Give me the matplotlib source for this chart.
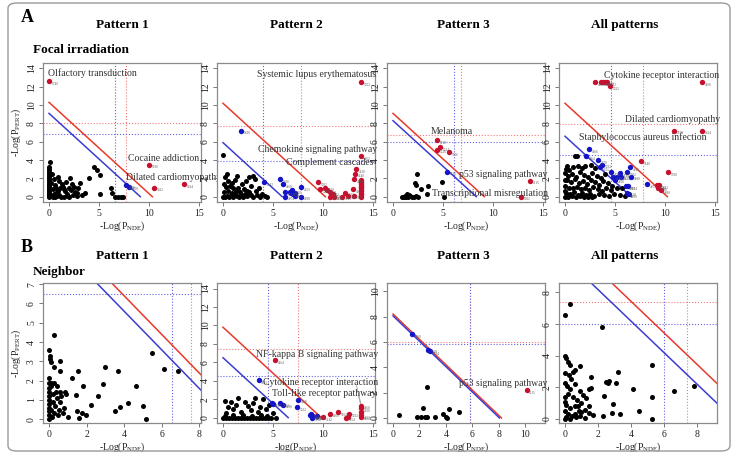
import matplotlib
matplotlib.use("Agg")
import matplotlib.pyplot as plt
from matplotlib.patches import FancyBboxPatch

plt.rcParams['font.family'] = ['Liberation Serif', 'DejaVu Serif']
plt.rcParams['mathtext.default'] = 'regular'

# ---------------- data: focal irradiation (row A) ----------------
fp1_black_x = [0, 0, 0, 0, 0, 0, 0, 0, 0, 0, 0, 0, 0, 0, 0, 0, 0, 0, 0, 0, 0.13,
               0.3, 0.5, 0.4, 0.6, 0.5, 0.9, 0.8, 1.0, 1.1, 1.3, 1.4, 1.2, 1.6, 1.7, 1.8,
               2.0, 2.1, 2.2, 2.4, 2.5, 2.6, 2.75, 2.9, 3.1, 3.3, 3.6, 4.0, 4.5, 4.75,
               5.1, 5.1, 6.2, 6.3, 6.6, 6.9, 7.2, 7.4, 0.2, 0.3, 0.7, 1.5, 1.9, 2.3,
               1.0, 0.4, 0.6, 0.8, 2.0, 2.8, 0.9, 1.5]
fp1_black_y = [0, 0.1, 0.2, 0.3, 0.45, 0.6, 0.75, 0.9, 1.05, 1.2, 1.4, 1.6, 1.8, 2.0,
               2.2, 2.4, 2.6, 2.8, 3.0, 3.2, 3.8,
               0.1, 0.3, 0.8, 1.3, 1.9, 2.2, 0.5, 0.2, 0.9, 1.4, 1.1, 0.0, 0.6, 1.6, 0.3,
               1.0, 2.0, 0.7, 0.2, 1.1, 0.5, 0.4, 0.9, 1.5, 0.2, 0.4, 2.0, 3.2, 2.9,
               2.4, 0.3, 0.9, 0.4, 0.0, 0.0, 0.0, 0.0, 1.5, 2.5, 1.0, 0.0, 0.1, 1.4,
               1.7, 0.0, 0.0, 0.1, 0.0, 0.1, 0.6, 0.8]
fp1_red_x = [0.0, 10.0, 10.5, 13.5]
fp1_red_y = [12.6, 3.5, 1.0, 1.35]
fp1_red_ids = ['1740', '5030', '5412', '5414']
fp1_blue_x = [7.7, 8.0]
fp1_blue_y = [1.27, 1.1]
fp1_blue_ids = ['4080', '4720']
fp1_cut = [10.3, 9.1]          # red, blue diagonal (x + y)
fp1_red_thr = [7.7, 8.0]       # vertical, horizontal
fp1_blue_thr = [6.6, 6.9]
fp1_notes = ['Olfactory transduction', 'Cocaine addiction', 'Dilated cardiomyopathy']

fp2_black_x = [0, 0.4, 0.2, 0.5, 0.1, 0.3, 0.7, 0.9, 1.0, 1.2, 1.4, 1.5, 1.7, 1.9, 2.1,
               2.3, 2.6, 2.8, 3.0, 3.2, 3.3, 3.6, 3.9, 4.2, 4.4,
               0, 0.2, 0.4, 0.6, 0.8, 1.0, 1.2, 1.4, 1.6, 1.8, 2.0, 2.2, 2.4, 2.6, 2.8,
               3.0, 3.4, 3.7, 0.1, 0.5, 0.9, 1.3, 2.4]
fp2_black_y = [4.6, 2.5, 2.1, 1.7, 1.4, 1.1, 1.2, 1.5, 0.9, 1.8, 2.3, 1.0, 0.5, 1.4, 0.8,
               1.7, 2.1, 1.2, 2.3, 1.9, 0.6, 1.0, 0.3, 0.1, 0.0,
               0, 0.0, 0.1, 0.0, 0.2, 0.0, 0.3, 0.1, 0.0, 0.2, 0.0, 0.3, 0.1, 0.5, 0.2,
               0.0, 0.2, 0.0, 0.5, 0.6, 0.4, 0.6, 0.6]
fp2_red_x = [13.8, 13.8, 13.3, 13.2, 13.1, 13.0, 13.1, 12.5, 11.9, 12.2, 11.1, 10.7,
             10.7, 10.4, 10.2, 9.7, 9.5, 11.0,
             13.8, 13.8, 13.8, 13.8, 13.8, 13.8, 13.8, 13.8, 13.8, 13.8, 13.8, 13.8, 13.8]
fp2_red_y = [12.5, 4.4, 3.0, 2.5, 1.9, 0.8, 0.1, 0.1, 0.0, 0.45, 0.0, 0.0,
             0.5, 0.7, 1.0, 0.8, 1.6, 0.3,
             0.0, 0.15, 0.3, 0.45, 0.6, 0.75, 0.9, 1.05, 1.2, 1.35, 1.5, 1.65, 1.8]
fp2_red_ids = ['5322', '4062', '4610', '4640', '4380', '4660', '5162', '4672', '4950',
               '4612', '4940', '5020', '4142', '5150', '4150', '5330', '5202', '4512',
               '', '', '', '', '', '', '', '', '', '', '', '', '']
fp2_blue_x = [1.8, 4.1, 5.66, 6.0, 6.2, 6.2, 6.7, 6.8, 7.0, 6.9, 7.2, 7.75, 7.8, 7.2]
fp2_blue_y = [7.2, 1.6, 1.9, 1.4, 0.5, 0.0, 0.5, 0.45, 0.3, 0.7, 0.45, 1.05, 0.0, 0.1]
fp2_blue_ids = ['5410', '4512', '5416', '4060', '4672', '4974', '4623', '', '4062',
                '5020', '', '4623', '4930', '']
fp2_cut = [10.2, 5.9]
fp2_red_thr = [7.8, 7.7]
fp2_blue_thr = [4.0, 3.9]
fp2_notes = ['Systemic lupus erythematosus', 'Chemokine signaling pathway',
             'Complement cascades']

fp3_black_x = [2.4, 2.2, 2.3, 2.75, 3.5, 3.4, 4.9, 5.1, 1.4, 0.9, 1.1, 1.3, 1.5, 1.7,
               1.9, 2.1, 2.3, 2.5, 1.6, 1.2]
fp3_black_y = [2.5, 1.5, 1.3, 0.8, 1.2, 0.3, 1.6, 0.0, 0.3, 0.0, 0.0, 0.0, 0.0, 0.1,
               0.0, 0.0, 0.1, 0.0, 0.2, 0.1]
fp3_red_x = [4.4, 4.67, 4.4, 5.6, 13.7, 12.75]
fp3_red_y = [6.15, 5.4, 5.15, 4.9, 1.75, 0.0]
fp3_red_ids = ['5218', '5214', '5220', '5006', '4115', '5202']
fp3_blue_x = [5.4]
fp3_blue_y = [2.75]
fp3_blue_ids = ['5216']
fp3_cut = [9.1, 8.3]
fp3_red_thr = [6.8, 6.7]
fp3_blue_thr = [6.05, 6.0]
fp3_notes = ['Melanoma', 'p53 signaling pathway', 'Transcriptional misregulation']

fp4_black_x = [1.0, 1.2, 0.1, 0.4, 0.8, 1.3, 1.7, 2.0, 2.6, 3.0, 0.0, 0.3, 0.7, 1.1, 1.5,
               1.9, 2.3, 2.7, 3.2, 3.6, 4.0, 0.2, 0.6, 1.0, 1.4, 1.8, 2.2, 2.6, 3.0, 3.4,
               3.8, 4.3, 4.7, 0.0, 0.4, 0.8, 1.2, 1.6, 2.0, 2.4, 2.8, 3.3, 3.7, 4.1, 4.6,
               5.2, 5.7, 0.1, 0.5, 0.9, 1.3, 1.7, 2.1, 2.5, 2.9, 3.4, 3.9, 4.4, 4.9, 5.5,
               6.0, 6.4, 0.0, 0.3, 0.7, 1.1, 1.5, 1.9, 2.3, 2.7, 0.0, 0.0, 0.2]
fp4_black_y = [4.4, 4.4, 3.0, 2.9, 3.2, 3.4, 3.1, 3.3, 3.5, 3.1, 2.6, 2.3, 2.5, 2.1, 2.7,
               2.4, 2.2, 2.6, 2.3, 2.0, 2.5, 1.8, 1.6, 1.9, 1.5, 1.7, 1.4, 1.8, 1.6, 1.3,
               1.7, 1.5, 1.2, 1.2, 1.0, 0.9, 1.1, 0.8, 1.0, 0.7, 1.1, 0.8, 0.6, 0.9, 0.7,
               0.9, 1.0, 0.4, 0.3, 0.5, 0.2, 0.4, 0.2, 0.3, 0.1, 0.3, 0.2, 0.1, 0.3, 0.2,
               0.1, 0.3, 0.0, 0.0, 0.1, 0.0, 0.1, 0.0, 0.0, 0.0, 0.6, 1.8, 3.4]
fp4_red_x = [2.95, 3.6, 3.8, 3.95, 4.2, 4.5, 13.7, 10.9, 13.7, 7.55, 10.3, 9.2, 9.4,
             9.3, 9.6]
fp4_red_y = [12.5, 12.5, 12.5, 12.55, 12.5, 12.1, 12.5, 7.2, 7.2, 3.85, 2.7, 1.26,
             1.26, 1.0, 0.7]
fp4_red_ids = ['4062', '4610', '4612', '4640', '5152', '5322', '4060', '5150', '5414',
               '5140', '5030', '5031', '5412', '5020', '4080']
fp4_blue_x = [2.4, 2.1, 3.3, 3.7, 3.45, 4.6, 6.45, 6.15, 5.5, 4.75, 5.2, 5.6, 5.0,
              6.55, 8.2, 6.05, 6.3, 6.2, 6.3]
fp4_blue_y = [5.2, 4.4, 4.0, 3.5, 3.25, 2.7, 3.25, 2.7, 2.55, 2.2, 2.2, 2.2, 1.86,
              2.2, 1.4, 1.15, 1.15, 0.45, 0.3]
fp4_blue_ids = ['4666', '4664', '4670', '5332', '4621', '4730', '4916', '5202', '4744',
                '4145', '4146', '5418', '4350', '4080', '4974', '4360', '5134', '4520',
                '4930']
fp4_cut = [10.2, 6.6]
fp4_red_thr = [7.8, 7.9]
fp4_blue_thr = [4.55, 4.5]
fp4_notes = ['Cytokine receptor interaction', 'Dilated cardiomyopathy',
             'Staphylococcus aureus infection']

# ---------------- data: neighbor (row B) ----------------
nb1_black_x = [0.25, 0.02, 0.03, 0.07, 0.1, 0.6, 0.6, 0.25, 1.55, 1.2, 0.0, 0.1, 0.25,
               1.8, 3.0, 3.7, 2.9, 2.6, 2.25, 3.5, 3.8, 4.2, 4.65, 5.0, 5.15, 5.5, 6.15,
               6.85, 1.45, 1.5, 1.6, 1.75, 1.95,
               0, 0, 0, 0, 0, 0, 0, 0, 0, 0, 0.15, 0.25, 0.1, 0.3, 0.2, 0.4, 0.35, 0.5,
               0.55, 0.6, 0.65, 0.75, 0.8, 0.9, 1.0, 0.45, 0.2, 0.1, 0.6, 0.85]
nb1_black_y = [4.37, 3.6, 3.25, 3.1, 2.95, 3.0, 2.5, 2.7, 2.5, 2.15, 2.15, 1.85, 1.85,
               1.7, 2.7, 2.5, 1.8, 1.2, 0.75, 0.4, 0.62, 0.86, 1.7, 0.7, 0.02, 3.42, 2.6,
               2.5, 1.25, 0.4, 0.05, 0.3, 0.2,
               0, 0.2, 0.4, 0.6, 0.8, 1.0, 1.2, 1.4, 1.6, 1.9, 0.1, 0.3, 0.5, 0.7, 0.9,
               1.1, 1.4, 0.2, 0.5, 0.9, 1.2, 0.3, 0.6, 1.3, 0.1, 1.7, 1.3, 1.7, 1.4, 1.4]
nb1_red_x, nb1_red_y, nb1_red_ids = [], [], []
nb1_blue_x, nb1_blue_y, nb1_blue_ids = [], [], []
nb1_cut = [10.4, 9.6]
nb1_red_thr = [7.55, 7.55]
nb1_blue_thr = [6.54, 6.48]

nb2_black_x = [0.17, 0.84, 1.5, 2.2, 3.2, 4.0, 0.5, 1.0, 1.3, 1.8, 2.5, 2.8, 3.0, 3.5,
               3.7, 4.3, 4.6, 5.0, 0.3, 2.0,
               0, 0.3, 0.6, 0.9, 1.2, 1.5, 1.8, 2.1, 2.4, 2.7, 3.0, 3.3, 3.6, 3.9, 4.2,
               4.5, 4.8, 5.3, 0.15, 1.0, 2.9, 3.8, 4.4]
nb2_black_y = [1.85, 1.7, 2.1, 1.7, 2.1, 2.0, 1.2, 0.9, 1.4, 0.6, 1.3, 0.8, 1.6, 0.6,
               1.2, 0.9, 1.4, 0.5, 0.5, 0.3,
               0, 0, 0, 0, 0, 0, 0, 0, 0, 0, 0, 0, 0, 0, 0, 0, 0, 0, 0.2, 0.3, 0.2,
               0.3, 0.2]
nb2_red_x = [5.16, 13.8, 13.8, 13.8, 13.8, 13.8, 11.5, 10.7, 12.6, 12.5, 12.3, 9.95, 9.0]
nb2_red_y = [6.2, 1.3, 1.0, 0.6, 0.3, 0.1, 0.6, 0.45, 0.45, 0.1, 0.0, 0.03, 0.17]
nb2_red_ids = ['4064', '4060', '4620', '', '4152', '4062', '5162', '4660', '5332', '',
               '5164', '4142', '4670']
nb2_blue_x = [3.54, 4.9, 4.95, 5.7, 5.97, 7.5, 7.4, 8.76, 8.83, 8.9, 9.4, 8.7]
nb2_blue_y = [4.05, 1.6, 1.5, 1.6, 1.4, 1.95, 1.15, 0.4, 0.17, 0.0, 0.17, 0.28]
nb2_blue_ids = ['5143', '4380', '', '5152', '4380', '4660', '5312', '5168', '4622',
                '5162', '4622', '']
nb2_cut = [9.8, 6.5]
nb2_red_thr = [7.5, 7.4]
nb2_blue_thr = [4.5, 4.5]
nb2_notes = ['NF-kappa B signaling pathway', 'Cytokine receptor interaction',
             'Toll-like receptor pathway']

nb3_black_x = [0.43, 1.8, 2.1, 2.45, 2.6, 3.2, 4.0, 4.1, 2.3, 2.55, 3.8, 4.2, 5.0]
nb3_black_y = [0.2, 0.05, 0.05, 0.05, 0.05, 0.05, 0.05, 0.0, 0.78, 2.45, 0.34, 0.7, 0.5]
nb3_red_x = [10.1]
nb3_red_y = [2.2]
nb3_red_ids = ['4115']
nb3_blue_x = [1.44, 2.66, 2.78]
nb3_blue_y = [6.6, 5.4, 5.25]
nb3_blue_ids = ['5160', '5218', '5214']
nb3_cut = [8.2, 8.05]
nb3_red_thr = [5.85, 5.97]
nb3_blue_thr = [5.8, 5.8]
nb3_notes = ['p53 signaling pathway']

nb4_black_x = [0.3, 0.04, 2.27, 5.26, 0.95, 3.24, 1.62, 2.6, 2.5, 2.7, 3.1, 1.5, 1.6,
               4.15, 6.58, 7.83, 5.26, 2.37, 2.9, 4.5, 2.83, 3.34, 5.3, 2.3, 1.7, 1.5,
               0, 0.1, 0.2, 0.3, 0.05, 0.25, 0.5, 0.65, 0.4, 0, 0.15, 0.35, 0.6, 0.9,
               1.1, 0.2, 0.5, 0.75, 1.0, 1.3, 0, 0.1, 0.3, 0.6, 0.85, 1.2, 1.45, 0, 0.2,
               0.45, 0.7, 0.95, 1.2, 0, 0.1, 0.35, 0.6, 1.0, 0.8, 0.05]
nb4_black_y = [7.26, 6.6, 5.85, 3.4, 3.37, 3.0, 2.63, 2.3, 2.35, 2.4, 2.3, 1.9, 1.95,
               1.9, 1.8, 2.06, 1.37, 1.43, 0.95, 0.53, 0.38, 0.34, 0.0, 0.17, 0.27, 0.8,
               4.0, 3.85, 3.6, 3.4, 2.9, 2.8, 3.0, 3.1, 2.5, 2.3, 2.1, 1.9, 2.2, 1.8,
               1.5, 1.6, 1.4, 1.2, 1.0, 1.3, 1.1, 0.9, 0.7, 0.8, 0.5, 0.6, 0.4, 0.5, 0.3,
               0.2, 0.1, 0.2, 0.05, 0.0, 0.1, 0.0, 0.35, 0.45, 0.85, 1.4]
nb4_red_x, nb4_red_y, nb4_red_ids = [], [], []
nb4_blue_x, nb4_blue_y, nb4_blue_ids = [], [], []
nb4_cut = [11.45, 10.2]
nb4_red_thr = [7.39, 7.37]
nb4_blue_thr = [6.03, 6.0]

col_titles = ['Pattern 1', 'Pattern 2', 'Pattern 3', 'All patterns']

# ---------------- styles ----------------
PT_RED = '#c8102e'
PT_BLUE = '#1414c8'
LN_RED = '#e8392b'
LN_BLUE = '#3c3cd2'
TH_RED = '#f07a7a'
TH_BLUE = '#6262e0'

top_lim = ((-0.6, 15.15), (-0.58, 14.6))
ticks15 = [0, 5, 10, 15]
ticks14 = [0, 2, 4, 6, 8, 10, 12, 14]

panels = [
    dict(black=(fp1_black_x, fp1_black_y), red=(fp1_red_x, fp1_red_y, fp1_red_ids),
         blue=(fp1_blue_x, fp1_blue_y, fp1_blue_ids), cut=fp1_cut, rthr=fp1_red_thr,
         bthr=fp1_blue_thr, lim=top_lim, xt=ticks15, yt=ticks14,
         notes=[(fp1_notes[0], -0.1, 13.45, 'left'), (fp1_notes[1], 7.9, 4.2, 'left'),
                (fp1_notes[2], 7.7, 2.1, 'left')]),
    dict(black=(fp2_black_x, fp2_black_y), red=(fp2_red_x, fp2_red_y, fp2_red_ids),
         blue=(fp2_blue_x, fp2_blue_y, fp2_blue_ids), cut=fp2_cut, rthr=fp2_red_thr,
         bthr=fp2_blue_thr, lim=top_lim, xt=ticks15, yt=ticks14,
         notes=[(fp2_notes[0], 15.25, 13.3, 'right'), (fp2_notes[1], 15.35, 5.1, 'right'),
                (fp2_notes[2], 15.0, 3.7, 'right')]),
    dict(black=(fp3_black_x, fp3_black_y), red=(fp3_red_x, fp3_red_y, fp3_red_ids),
         blue=(fp3_blue_x, fp3_blue_y, fp3_blue_ids), cut=fp3_cut, rthr=fp3_red_thr,
         bthr=fp3_blue_thr, lim=top_lim, xt=ticks15, yt=ticks14,
         notes=[(fp3_notes[0], 3.8, 7.07, 'left'), (fp3_notes[1], 15.35, 2.46, 'right'),
                (fp3_notes[2], 15.4, 0.3, 'right')]),
    dict(black=(fp4_black_x, fp4_black_y), red=(fp4_red_x, fp4_red_y, fp4_red_ids),
         blue=(fp4_blue_x, fp4_blue_y, fp4_blue_ids), cut=fp4_cut, rthr=fp4_red_thr,
         bthr=fp4_blue_thr, lim=top_lim, xt=ticks15, yt=ticks14,
         notes=[(fp4_notes[0], 15.4, 13.2, 'right'), (fp4_notes[1], 15.45, 8.4, 'right'),
                (fp4_notes[2], 14.1, 6.5, 'right')]),
    dict(black=(nb1_black_x, nb1_black_y), red=(nb1_red_x, nb1_red_y, nb1_red_ids),
         blue=(nb1_blue_x, nb1_blue_y, nb1_blue_ids), cut=nb1_cut, rthr=nb1_red_thr,
         bthr=nb1_blue_thr, lim=((-0.32, 8.1), (-0.2, 7.06)), xt=[0, 2, 4, 6, 8],
         yt=[0, 1, 2, 3, 4, 5, 6, 7], notes=[]),
    dict(black=(nb2_black_x, nb2_black_y), red=(nb2_red_x, nb2_red_y, nb2_red_ids),
         blue=(nb2_blue_x, nb2_blue_y, nb2_blue_ids), cut=nb2_cut, rthr=nb2_red_thr,
         bthr=nb2_blue_thr, lim=top_lim, xt=ticks15, yt=ticks14,
         notes=[(nb2_notes[0], 3.27, 6.8, 'left'), (nb2_notes[1], 15.5, 3.8, 'right'),
                (nb2_notes[2], 15.3, 2.64, 'right')]),
    dict(black=(nb3_black_x, nb3_black_y), red=(nb3_red_x, nb3_red_y, nb3_red_ids),
         blue=(nb3_blue_x, nb3_blue_y, nb3_blue_ids), cut=nb3_cut, rthr=nb3_red_thr,
         bthr=nb3_blue_thr, lim=((-0.46, 11.5), (-0.4, 10.65)), xt=[0, 2, 4, 6, 8, 10],
         yt=[0, 2, 4, 6, 8, 10], notes=[(nb3_notes[0], 11.65, 2.7, 'right')]),
    dict(black=(nb4_black_x, nb4_black_y), red=(nb4_red_x, nb4_red_y, nb4_red_ids),
         blue=(nb4_blue_x, nb4_blue_y, nb4_blue_ids), cut=nb4_cut, rthr=nb4_red_thr,
         bthr=nb4_blue_thr, lim=((-0.34, 9.2), (-0.25, 8.6)), xt=[0, 2, 4, 6, 8],
         yt=[0, 2, 4, 6, 8], notes=[]),
]


def draw_panel(ax, p):
    (x0, x1), (y0, y1) = p['lim']
    rc, bc = p['cut']
    ax.plot([0, rc], [rc, 0], color=LN_RED, lw=1.1, zorder=2)
    ax.plot([0, bc], [bc, 0], color=LN_BLUE, lw=1.1, zorder=2)
    ax.axvline(p['rthr'][0], color=TH_RED, ls=':', lw=0.8, zorder=1)
    ax.axhline(p['rthr'][1], color=TH_RED, ls=':', lw=0.8, zorder=1)
    ax.axvline(p['bthr'][0], color=TH_BLUE, ls=':', lw=0.8, zorder=1)
    ax.axhline(p['bthr'][1], color=TH_BLUE, ls=':', lw=0.8, zorder=1)
    ax.scatter(p['black'][0], p['black'][1], s=13, c='black', lw=0, zorder=3)
    for xs, ys, ids, col in [(*p['red'], PT_RED), (*p['blue'], PT_BLUE)]:
        ax.scatter(xs, ys, s=15, c=col, lw=0, zorder=4)
        for x, y, t in zip(xs, ys, ids):
            if t:
                ax.annotate(t, (x, y), xytext=(2, -0.5), textcoords='offset points',
                            fontsize=2.4, color='#555555', ha='left', va='top', zorder=5)
    for txt, x, y, ha in p['notes']:
        ax.text(x, y, txt, fontsize=7, color='#333333', ha=ha, va='center', zorder=6)
    ax.set_xlim(x0, x1)
    ax.set_ylim(y0, y1)
    ax.set_xticks(p['xt'])
    ax.set_yticks(p['yt'])
    ax.tick_params(length=3, width=0.7, color='#777777', labelsize=7, pad=2,
                   labelcolor='#222222')
    for lab in ax.get_yticklabels():
        lab.set_rotation(90)
        lab.set_va('center')
    for s in ax.spines.values():
        s.set_color('#8a8a8a')
        s.set_linewidth(0.9)


fig = plt.figure(figsize=(7.36, 4.53), dpi=100)
W, H = 736.0, 453.0
lefts = [43, 217, 387, 559]
rows = [(63, 202), (283, 423)]

for i, p in enumerate(panels):
    r, c = divmod(i, 4)
    top, bot = rows[r]
    ax = fig.add_axes([lefts[c] / W, 1 - bot / H, 158 / W, (bot - top) / H])
    draw_panel(ax, p)
    xl = '-log(P$_{NDE}$)' if i == 5 else '-Log(P$_{NDE}$)'
    ax.set_xlabel(xl, fontsize=7, labelpad=1, color='#222222')
    if c == 0:
        ax.set_ylabel('-Log(P$_{PERT}$)', fontsize=7, labelpad=3, color='#222222')
    if i == 5:
        # leader lines from labels to stacked points
        ax.plot([13.3, 13.8], [3.5, 1.3], color='#999999', lw=0.5, zorder=2)
        ax.plot([13.5, 13.8], [2.35, 1.0], color='#999999', lw=0.5, zorder=2)

# titles and section labels
title_x = [122, 296, 463, 625]
for ty, sub, sy, letter, ly in [(25, 'Focal irradiation', 50, 'A', 18),
                                (256, 'Neighbor', 272, 'B', 247)]:
    for tx, t in zip(title_x, col_titles):
        fig.text(tx / W, 1 - ty / H, t, fontsize=9.5, fontweight='bold',
                 ha='center', va='center')
    fig.text(33 / W, 1 - sy / H, sub, fontsize=9.5, fontweight='bold',
             ha='left', va='center')
    fig.text(27 / W, 1 - ly / H, letter, fontsize=13, fontweight='bold',
             ha='center', va='center')

frame = FancyBboxPatch((8 / W, 2 / H), 722 / W, 448 / H, transform=fig.transFigure,
                       boxstyle='round,pad=0,rounding_size=0.012', fill=False,
                       ec='#9a9a9a', lw=1.0)
fig.patches.append(frame)

fig.savefig('out.png', dpi=100, facecolor='white')
